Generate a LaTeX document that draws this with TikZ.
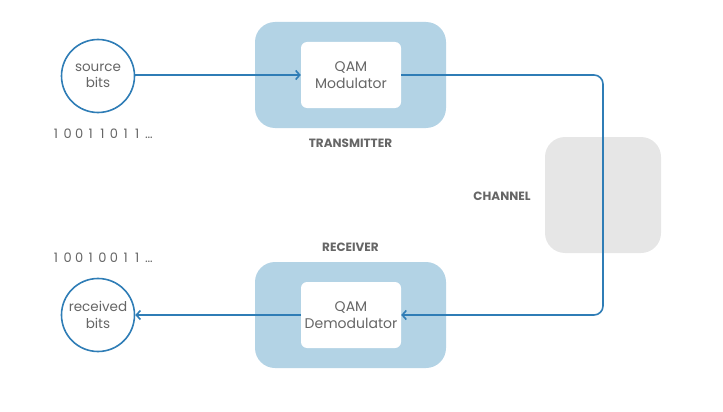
\documentclass[tikz,border=0pt]{standalone}
\usepackage{fontspec}
\setmainfont{Poppins}
\usepackage{tikz}
\usetikzlibrary{arrows.meta,positioning}
\definecolor{unitblue}{HTML}{b3d3e5}
\definecolor{wireblue}{HTML}{2f7db6}
\definecolor{chgray}{HTML}{e6e6e6}
\definecolor{txtgray}{HTML}{666666}
\newcommand{\bitcell}[1]{\makebox[11.6pt]{#1}}

\begin{document}
\begin{tikzpicture}[x=1pt, y=-1pt,
  unit/.style={fill=unitblue, rounded corners=20pt, minimum width=191pt, minimum height=106pt},
  block/.style={fill=white, rounded corners=6pt, minimum width=100pt, minimum height=66pt, align=center, font=\fontsize{14}{17}\selectfont, text=txtgray},
  bits/.style={circle, draw=wireblue, line width=1.6pt, minimum size=73pt, align=center, font=\fontsize{13.5}{16.5}\selectfont, text=txtgray, fill=white},
  tag/.style={font=\fontsize{12}{14}\selectfont\bfseries, text=txtgray},
  seq/.style={font=\fontsize{13}{15}\selectfont, text=txtgray, inner sep=0pt},
  arr/.style={-{Straight Barb[length=4pt, width=9pt, line width=1.6pt]}, wireblue, line width=1.6pt}]
  \useasboundingbox (0,0) rectangle (723,412);
  % transmitter side
  \node[unit] (tx) at (350.5,75) {};
  \node[block] (mod) at (351,75) {QAM\\Modulator};
  \node[tag, below=7pt of tx] (txlab) {TRANSMITTER};
  \node[bits] (src) at (98,76) {source\\bits};
  \node[seq, anchor=west] (srcseq) at (50,134) {\bitcell{1}\bitcell{0}\bitcell{0}\bitcell{1}\bitcell{1}\bitcell{0}\bitcell{1}\bitcell{1}\bitcell{\ldots}};
  % receiver side
  \node[unit] (rx) at (350.5,315) {};
  \node[block] (demod) at (351,315) {QAM\\Demodulator};
  \node[tag, above=7pt of rx] (rxlab) {RECEIVER};
  \node[bits] (dst) at (98,315) {received\\bits};
  \node[seq, anchor=west] (dstseq) at (50,258) {\bitcell{1}\bitcell{0}\bitcell{0}\bitcell{1}\bitcell{0}\bitcell{0}\bitcell{1}\bitcell{1}\bitcell{\ldots}};
  % channel
  \node[fill=chgray, rounded corners=20pt, minimum width=116pt, minimum height=116pt] (ch) at (603,195) {};
  \node[tag] (chlab) at (502,196) {CHANNEL};
  \coordinate (turn) at (603,75);
  % connectors
  \draw[arr] (src.east |- mod.west) -- (mod.west);
  \draw[arr, rounded corners=9pt] (mod.east) -- (turn) |- (demod.east);
  \draw[arr] (demod.west) -- (dst.east);
\end{tikzpicture}
\end{document}
